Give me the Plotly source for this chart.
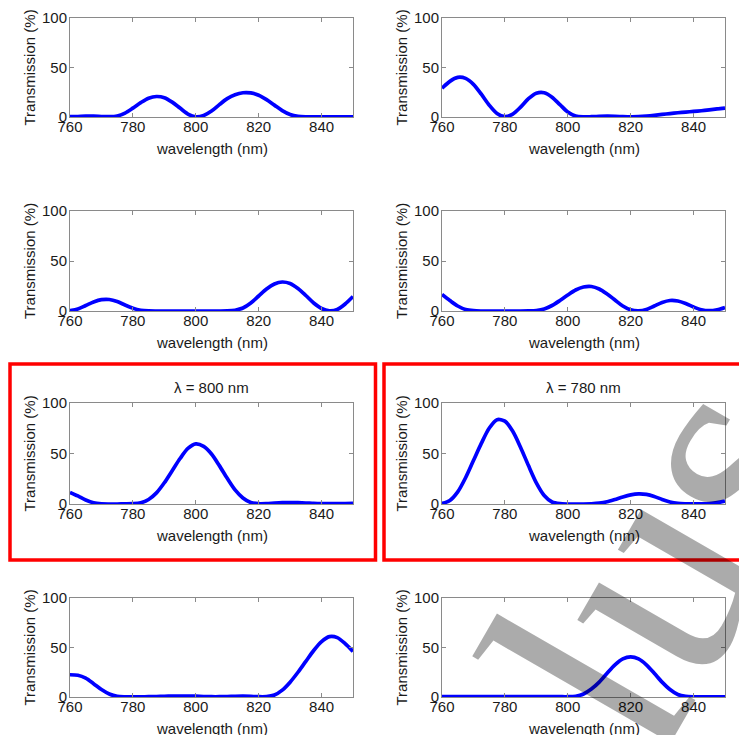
import plotly.graph_objects as go

# ---------------- data ----------------
wavelength = [760, 762.5, 765, 767.5, 770, 772.5, 775, 777.5, 780, 782.5,
              785, 787.5, 790, 792.5, 795, 797.5, 800, 802.5, 805, 807.5,
              810, 812.5, 815, 817.5, 820, 822.5, 825, 827.5, 830, 832.5,
              835, 837.5, 840, 842.5, 845, 847.5, 850]

t_panel1 = [0.3, 0.5, 0.8, 0.8, 0.5, 0.3, 1.0, 4, 9, 14.5,
            19, 20.7, 19.5, 15, 9, 3, 0.2, 1.5, 6, 12.5,
            18.5, 22.5, 24.5, 24.3, 22, 17.5, 12, 6.5, 2.5, 0.6,
            0.1, 0.1, 0.1, 0.1, 0.1, 0.1, 0.1]

t_panel2 = [29, 36, 40, 39, 33, 23, 12, 3.5, 0.3, 3,
            10, 18.5, 24, 24.5, 20, 12.5, 5, 1, 0.2, 0.3,
            0.6, 0.8, 0.7, 0.4, 0.2, 0.3, 0.8, 1.6, 2.6, 3.5,
            4.3, 5, 5.6, 6.3, 7.2, 8.2, 9]

t_panel3 = [0.3, 2, 5.5, 9, 11.3, 11.5, 9.5, 6, 2.8, 0.8,
            0.1, 0, 0, 0, 0, 0, 0, 0, 0, 0,
            0.1, 0.8, 3, 8, 15, 22, 27, 29, 27.5, 22.5,
            15.5, 8, 2.5, 0.2, 1.5, 7, 14.5]

t_panel4 = [16.5, 10.5, 5, 1.5, 0.3, 0, 0, 0, 0, 0,
            0, 0.1, 0.5, 2, 5.5, 10.5, 16, 21, 24, 24.5,
            22, 17, 11, 5, 1.2, 0.2, 1.5, 5, 8.5, 10.5,
            10, 7.5, 4, 1.2, 0.3, 1.2, 3.5]

t_panel5 = [11.5, 8, 4, 1.2, 0.2, 0, 0, 0.1, 0.3, 1.2,
            4.5, 11, 21, 33, 45, 55, 59.5, 57, 49.5, 38,
            25.5, 14, 6, 1.5, 0.3, 0.4, 0.9, 1.3, 1.5, 1.3,
            1.0, 0.6, 0.4, 0.3, 0.3, 0.4, 0.6]

t_panel6 = [0.5, 3.5, 12, 26, 43, 60, 75, 83.5, 82, 72,
            56, 38, 21, 8.5, 2, 0.3, 0, 0, 0, 0.2,
            0.8, 2.2, 4.5, 7, 9, 10, 9.5, 7.5, 4.5, 2,
            0.6, 0.2, 0.1, 0.2, 0.5, 1.3, 2.8]

t_panel7 = [22.5, 22, 19, 13.5, 7.5, 3, 0.6, 0.1, 0.1, 0.2,
            0.3, 0.5, 0.7, 0.9, 1.0, 1.0, 0.8, 0.5, 0.3, 0.3,
            0.5, 0.7, 0.8, 0.6, 0.3, 0.4, 2, 7, 15, 25,
            36, 47, 56, 61, 60, 54, 46]

t_panel8 = [0.3, 0.3, 0.3, 0.3, 0.3, 0.3, 0.3, 0.3, 0.3, 0.3,
            0.3, 0.3, 0.3, 0.3, 0.3, 0.3, 0.3, 0.8, 3, 8,
            15, 24, 32.5, 38.5, 40.5, 38.5, 32.5, 24, 15, 7.5,
            2.5, 0.6, 0.2, 0.2, 0.2, 0.2, 0.2]

panels = [t_panel1, t_panel2, t_panel3, t_panel4,
          t_panel5, t_panel6, t_panel7, t_panel8]
panel_titles = ["", "", "", "", "λ = 800 nm", "λ = 780 nm", "", ""]

x_ticks = [760, 780, 800, 820, 840]
y_ticks = [0, 50, 100]
x_label = "wavelength (nm)"
y_label = "Transmission (%)"
watermark_text = "lus"

# ---------------- layout geometry (pixels) ----------------
W, H = 739, 735
col_px = [(70, 353), (442, 725)]
row_px = [(18, 117), (211, 311), (403, 504), (598, 697)]
ytitle_x_px = [29, 401]

def px_x(p):
    return p / W

def px_y(p):
    return 1 - p / H

FONT = "Liberation Sans, Arial, sans-serif"
TXT = "#1a1a1a"
AX = "#8a8a8a"

fig = go.Figure()
layout = dict(
    width=W, height=H,
    margin=dict(l=0, r=0, t=0, b=0, pad=0, autoexpand=False),
    paper_bgcolor="white", plot_bgcolor="white",
    showlegend=False,
    font=dict(family=FONT, size=15, color=TXT),
)
annotations = []
shapes = []

for i, vals in enumerate(panels):
    r, c = divmod(i, 2)
    n = i + 1
    xa = "xaxis" if n == 1 else f"xaxis{n}"
    ya = "yaxis" if n == 1 else f"yaxis{n}"
    xr = "x" if n == 1 else f"x{n}"
    yr = "y" if n == 1 else f"y{n}"
    x0, x1 = col_px[c]
    top, bot = row_px[r]
    layout[xa] = dict(
        domain=[px_x(x0), px_x(x1)], anchor=yr, range=[760, 850],
        tickvals=x_ticks, showline=True, mirror="ticks", linecolor=AX,
        linewidth=1, ticks="inside", ticklen=4, tickcolor=AX,
        showgrid=False, zeroline=False, automargin=False,
        ticklabelstandoff=-4,
        tickfont=dict(family=FONT, size=15, color=TXT),
    )
    layout[ya] = dict(
        domain=[px_y(bot), px_y(top)], anchor=xr, range=[0, 100],
        tickvals=y_ticks, showline=True, mirror="ticks", linecolor=AX,
        linewidth=1, ticks="inside", ticklen=4, tickcolor=AX,
        showgrid=False, zeroline=False, automargin=False,
        ticklabelstandoff=-1,
        tickfont=dict(family=FONT, size=15, color=TXT),
    )
    fig.add_trace(go.Scatter(
        x=wavelength, y=vals, mode="lines", xaxis=xr, yaxis=yr,
        line=dict(color="#0000ff", width=3.7, shape="spline", smoothing=0.8),
        hoverinfo="skip",
    ))
    annotations.append(dict(
        text=y_label, xref="paper", yref="paper",
        x=px_x(ytitle_x_px[c]), y=px_y((top + bot) / 2),
        textangle=-90, showarrow=False, xanchor="center", yanchor="middle",
        font=dict(family=FONT, size=15, color=TXT),
    ))
    annotations.append(dict(
        text=x_label, xref="paper", yref="paper",
        x=px_x((x0 + x1) / 2), y=px_y(bot + 31),
        showarrow=False, xanchor="center", yanchor="middle",
        font=dict(family=FONT, size=15, color=TXT),
    ))
    if panel_titles[i]:
        annotations.append(dict(
            text=panel_titles[i], xref="paper", yref="paper",
            x=px_x((x0 + x1) / 2), y=px_y(top - 16),
            showarrow=False, xanchor="center", yanchor="middle",
            font=dict(family=FONT, size=15, color=TXT),
        ))

frames_px = [(10, 364, 375.5, 560), (384, 364, 750, 560)]
for (fx0, fy0, fx1, fy1) in frames_px:
    shapes.append(dict(
        type="rect", xref="paper", yref="paper",
        x0=px_x(fx0), x1=px_x(fx1), y0=px_y(fy1), y1=px_y(fy0),
        line=dict(color="#ff0000", width=3.5), fillcolor="rgba(0,0,0,0)",
        layer="above",
    ))

# semi-transparent grey watermark (bottom right of the reference)
annotations.append(dict(
    text=watermark_text, xref="paper", yref="paper",
    x=px_x(655), y=px_y(560), textangle=-60, showarrow=False,
    xanchor="center", yanchor="middle",
    font=dict(family="Liberation Serif, Times New Roman, serif", size=310,
              color="rgba(0,0,0,0.33)"),
))

layout["annotations"] = annotations
layout["shapes"] = shapes
fig.update_layout(**layout)
fig.write_html("out.html", config={"displayModeBar": False},
               post_script="document.body.style.margin='0px';")
